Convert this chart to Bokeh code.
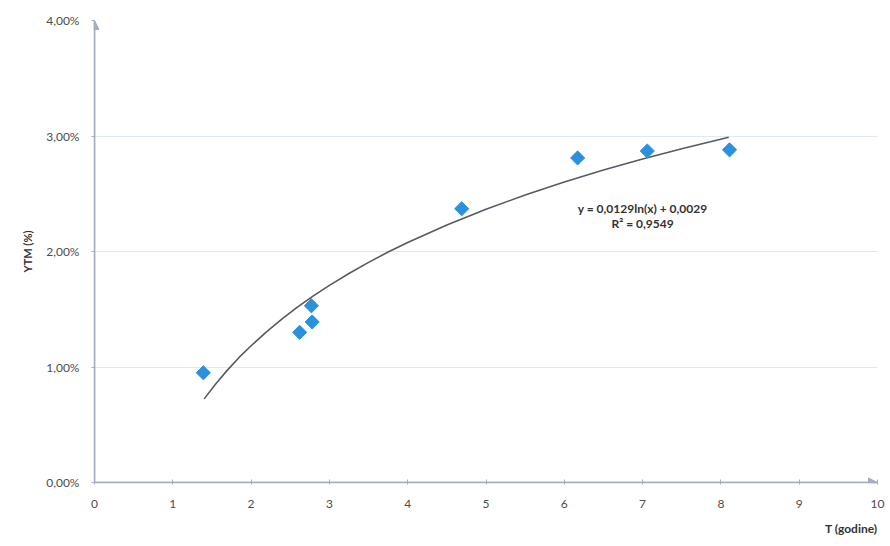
from bokeh.plotting import figure
from bokeh.models import Range1d, Label, Arrow, NormalHead, CustomJSTickFormatter, FixedTicker, Title
from bokeh.embed import file_html
from bokeh.resources import INLINE

# Observed bonds: maturity T (years) and YTM (decimal)
maturity = [1.39, 2.62, 2.78, 2.77, 4.69, 6.17, 7.06, 8.11]
ytm = [0.0095, 0.0130, 0.0139, 0.0153, 0.0237, 0.0281, 0.0287, 0.0288]

# Logarithmic trend line
trend_x = [1.4, 1.55, 1.7, 1.85, 2.0, 2.2, 2.4, 2.6, 2.8, 3.0, 3.25, 3.5, 3.75, 4.0, 4.5,
           5.0, 5.5, 6.0, 6.5, 7.0, 7.5, 8.1]
trend_y = [0.00724, 0.00855, 0.00975, 0.01085, 0.01184, 0.01307, 0.01419, 0.01523, 0.01618,
           0.01707, 0.01810, 0.01906, 0.01995, 0.02078, 0.02230, 0.02366, 0.02489, 0.02601,
           0.02705, 0.02800, 0.02889, 0.02989]

x_ticks = [0, 1, 2, 3, 4, 5, 6, 7, 8, 9, 10]
y_ticks = [0.0, 0.01, 0.02, 0.03, 0.04]

equation_text = "y = 0,0129ln(x) + 0,0029"
r2_text = "R² = 0,9549"
x_title = "T (godine)"
y_title = "YTM (%)"

FONT = "Lato"
AXIS_COL = "#a3aec6"
TEXT_COL = "#4d4d4d"

xr = Range1d(0, 10)
yr = Range1d(0, 0.04)

p = figure(width=886, height=545, output_backend="svg", toolbar_location=None,
           x_range=xr, y_range=yr, min_border_left=94, min_border_right=9,
           min_border_top=20, min_border_bottom=63)
p.outline_line_color = None
p.background_fill_color = "white"

p.xaxis.ticker = FixedTicker(ticks=x_ticks)
p.yaxis.ticker = FixedTicker(ticks=y_ticks)
p.yaxis.formatter = CustomJSTickFormatter(code="return (tick*100).toFixed(2).replace('.', ',') + '%';")

for ax in (p.xaxis[0], p.yaxis[0]):
    ax.axis_line_color = AXIS_COL
    ax.axis_line_width = 1.5
    ax.major_tick_line_color = AXIS_COL
    ax.minor_tick_line_color = None
    ax.major_label_text_font = FONT
    ax.major_label_text_font_size = "12px"
    ax.major_label_text_color = TEXT_COL

p.xaxis.major_tick_in = 3
p.xaxis.major_tick_out = 2
p.xaxis.major_label_standoff = 15
p.yaxis.major_tick_in = 0
p.yaxis.major_tick_out = 3
p.yaxis.major_label_standoff = 12

p.yaxis.axis_label = y_title
p.yaxis.axis_label_text_font = FONT
p.yaxis.axis_label_text_font_style = "bold"
p.yaxis.axis_label_text_font_size = "11px"
p.yaxis.axis_label_text_color = "#333333"
p.yaxis.axis_label_standoff = 9

p.xgrid.grid_line_color = None
p.ygrid.grid_line_color = "#dfe8f3"
p.ygrid.grid_line_width = 1.2

# Axis arrows
p.add_layout(Arrow(end=NormalHead(size=9, fill_color=AXIS_COL, line_color=AXIS_COL),
                   x_start=xr.start, y_start=yr.start, x_end=xr.end, y_end=yr.start,
                   line_color=AXIS_COL, line_width=1.5))
p.add_layout(Arrow(end=NormalHead(size=9, fill_color=AXIS_COL, line_color=AXIS_COL),
                   x_start=xr.start, y_start=yr.start, x_end=xr.start, y_end=yr.end,
                   line_color=AXIS_COL, line_width=1.5))

p.line(trend_x, trend_y, line_color="#555a66", line_width=1.6)
p.scatter(maturity, ytm, marker="square", angle=0.785398, size=10,
          fill_color="#2a91dc", line_color="#2a91dc")

p.add_layout(Label(x=7.0, y=0.0237, text=equation_text, text_align="center", text_baseline="middle",
                   text_font=FONT, text_font_style="bold", text_font_size="12px", text_color="#333333"))
p.add_layout(Label(x=7.0, y=0.0224, text=r2_text, text_align="center", text_baseline="middle",
                   text_font=FONT, text_font_style="bold", text_font_size="12px", text_color="#333333"))

p.add_layout(Title(text=x_title, align="right", text_font=FONT, text_font_style="bold",
                   text_font_size="12px", text_color="#333333", standoff=17, offset=0), "below")

open("out.html", "w").write(file_html(p, INLINE))
